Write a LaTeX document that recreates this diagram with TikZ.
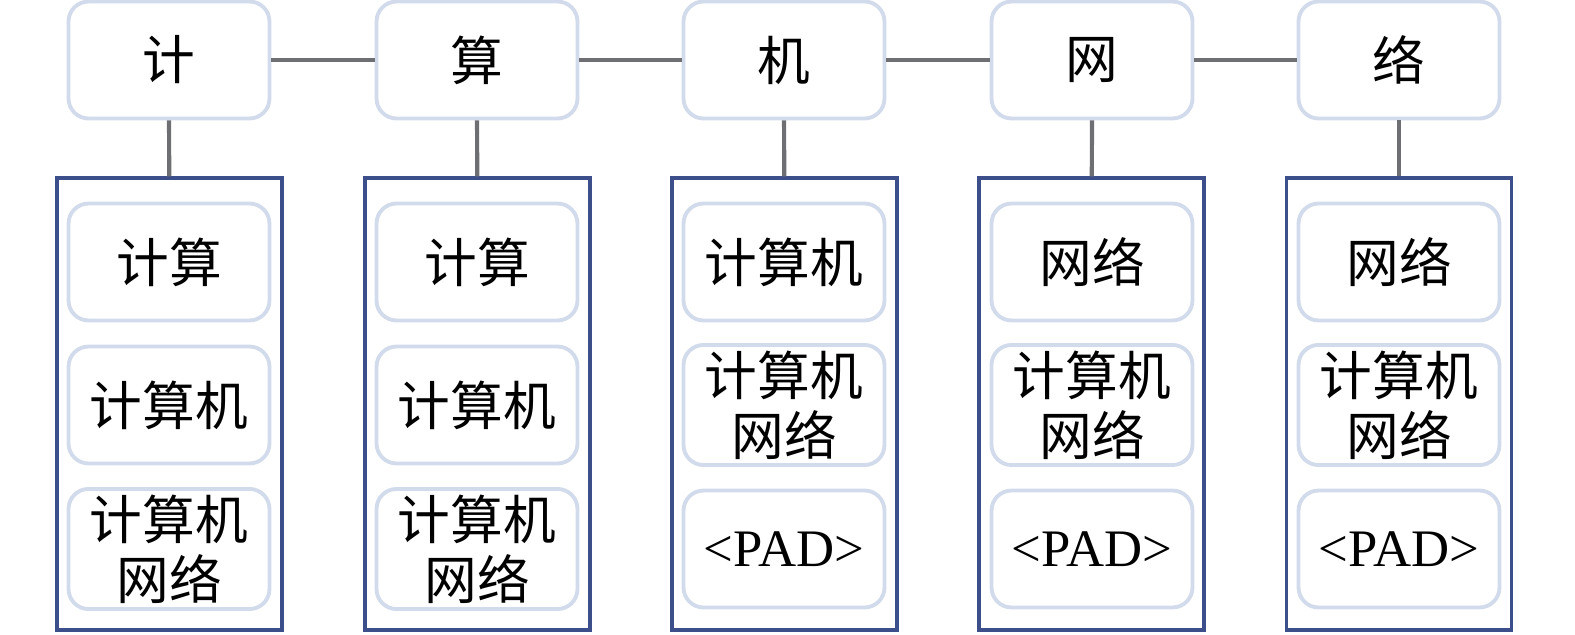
\documentclass[tikz,border=0pt]{standalone}
\usepackage{fontspec}
\setmainfont{Liberation Serif}
\newfontfamily\cjk{Noto Sans CJK SC}
\definecolor{boxline}{HTML}{D2DBEC}
\definecolor{frameline}{HTML}{3D4F8A}
\definecolor{linkline}{HTML}{6E6F72}
\tikzset{
  word/.style={draw=boxline, line width=2.2pt, rounded corners=0.4cm, fill=white,
    minimum width=4.02cm, minimum height=2.34cm, align=center,
    font=\cjk\fontsize{30}{34}\selectfont},
  pad/.style={word, font=\fontsize{30}{34}\selectfont},
  frame/.style={draw=frameline, line width=2pt, minimum width=4.5cm, minimum height=9.04cm},
  link/.style={draw=linkline, line width=2.4pt}
}
\begin{document}
\begin{tikzpicture}[x=0.02cm,y=-0.02cm]
\useasboundingbox (0,0) rectangle (1575,635);
% frames
\node[frame] (f1) at (169.5,404) {};
\node[frame] (f2) at (477.5,404) {};
\node[frame] (f3) at (784.5,404) {};
\node[frame] (f4) at (1091.5,404) {};
\node[frame] (f5) at (1399,404) {};
% top row
\node[word] (t1) at (169,60) {计};
\node[word] (t2) at (477,60) {算};
\node[word] (t3) at (784,60) {机};
\node[word] (t4) at (1092,60) {网};
\node[word] (t5) at (1399,60) {络};
% links
\draw[link] (t1) -- (t2);
\draw[link] (t2) -- (t3);
\draw[link] (t3) -- (t4);
\draw[link] (t4) -- (t5);
\draw[link] (t1) -- (f1);
\draw[link] (t2) -- (f2);
\draw[link] (t3) -- (f3);
\draw[link] (t4) -- (f4);
\draw[link] (t5) -- (f5);
% column 1
\node[word] (a1) at (169,262) {计算};
\node[word] (a2) at (169,405) {计算机};
\node[word] (a3) at (169,549) {计算机\\网络};
% column 2
\node[word] (b1) at (477,262) {计算};
\node[word] (b2) at (477,405) {计算机};
\node[word] (b3) at (477,549) {计算机\\网络};
% column 3
\node[word] (c1) at (784,262) {计算机};
\node[word] (c2) at (784,405) {计算机\\网络};
\node[pad] (c3) at (784,549) {<PAD>};
% column 4
\node[word] (d1) at (1092,262) {网络};
\node[word] (d2) at (1092,405) {计算机\\网络};
\node[pad] (d3) at (1092,549) {<PAD>};
% column 5
\node[word] (e1) at (1399,262) {网络};
\node[word] (e2) at (1399,405) {计算机\\网络};
\node[pad] (e3) at (1399,549) {<PAD>};
\end{tikzpicture}
\end{document}
